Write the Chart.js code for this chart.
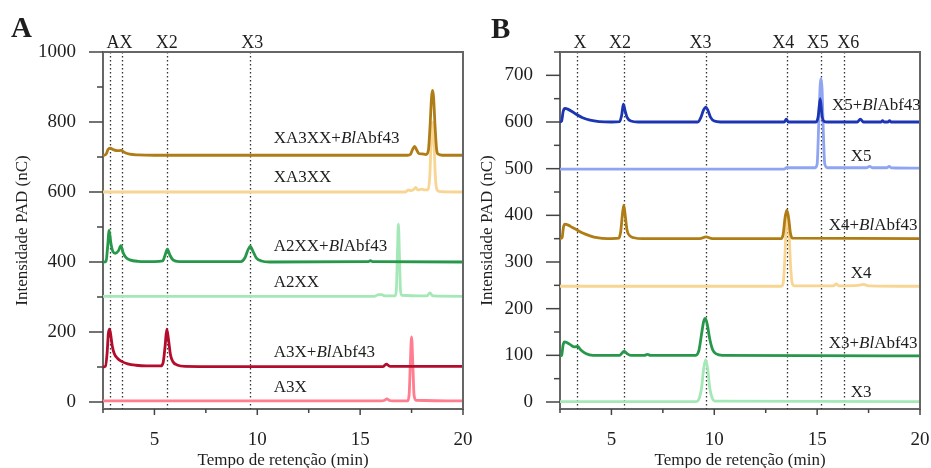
<!DOCTYPE html>
<html><head><meta charset="utf-8">
<script src="https://cdn.jsdelivr.net/npm/chart.js@4.4.0/dist/chart.umd.min.js"></script>
<style>
html,body{margin:0;padding:0;background:#fff;width:931px;height:468px;overflow:hidden;}
#wa{position:absolute;left:0;top:0;width:490px;height:468px;}
#wb{position:absolute;left:470px;top:0;width:461px;height:468px;}
canvas{display:block;}
</style></head><body>
<div id="wa"><canvas id="ca" width="490" height="468"></canvas></div>
<div id="wb"><canvas id="cb" width="461" height="468"></canvas></div>
<script>
// ---------- shared ticks ----------
const xTicks = [2.5, 5, 7.5, 10, 12.5, 15, 17.5, 20];
const xTickLabels = ['', '5', '', '10', '', '15', '', '20'];

// ---------- Panel A ----------
const yTicksA = [0, 100, 200, 300, 400, 500, 600, 700, 800, 900, 1000];
const yTickLabelsA = ['0', '', '200', '', '400', '', '600', '', '800', '', '1000'];
const refTimesA = [2.84, 3.4, 5.63, 9.64];
const refLabelsA = ['AX', 'X2', 'X3'];
const refLabelTimesA = [3.3, 5.6, 9.76];

const XA3XX_Bl = [[2.5,704],[2.65,708],[2.75,722],[2.85,725],[3.0,721],[3.2,718],[3.38,719],[3.55,713],[3.8,708],[4.2,706],[5,705],[17.3,705],[17.45,708],[17.55,722],[17.65,730],[17.75,720],[17.85,710],[18.0,709],[18.2,707],[18.32,720],[18.4,790],[18.47,870],[18.52,890],[18.57,870],[18.64,790],[18.72,720],[18.8,708],[19,705],[20,705]];
const XA3XX = [[2.5,600],[17.2,600],[17.35,606],[17.45,604],[17.6,607],[17.7,613],[17.8,606],[18.0,608],[18.15,606],[18.3,606],[18.38,640],[18.45,740],[18.52,800],[18.59,740],[18.66,640],[18.74,606],[18.9,601],[20,600]];
const A2XX_Bl = [[2.5,400],[2.65,402],[2.72,440],[2.8,490],[2.88,455],[2.98,430],[3.1,425],[3.25,432],[3.37,447],[3.47,428],[3.6,414],[3.8,406],[4.2,402],[5.0,401],[5.4,403],[5.52,420],[5.63,437],[5.75,420],[5.9,406],[6.2,401],[9.2,401],[9.4,412],[9.55,435],[9.66,445],[9.78,432],[9.95,412],[10.2,403],[10.6,400],[15.4,401],[15.5,404],[15.6,401],[20,400]];
const A2XX = [[2.5,302],[15.7,302],[15.9,307],[16.05,307],[16.2,303],[16.7,303],[16.76,320],[16.81,420],[16.86,508],[16.91,420],[16.96,320],[17.02,305],[18.25,303],[18.39,312],[18.53,303],[20,302]];
const A3X_Bl = [[2.5,100],[2.62,102],[2.7,140],[2.76,195],[2.82,208],[2.88,190],[2.95,160],[3.05,138],[3.2,125],[3.4,116],[3.7,109],[4.1,105],[4.6,103],[5.3,103],[5.42,112],[5.52,160],[5.6,208],[5.68,180],[5.78,135],[5.9,115],[6.1,106],[6.5,102],[10,101],[16.1,101],[16.27,108],[16.45,102],[20,102]];
const A3X = [[2.5,3],[16.0,3],[16.2,5],[16.3,9],[16.4,5],[16.6,3],[17.3,3],[17.38,20],[17.44,110],[17.5,186],[17.56,110],[17.62,20],[17.72,5],[20,3]];

const seriesNamesA = ['XA3XX+BlAbf43', 'XA3XX', 'A2XX+BlAbf43', 'A2XX', 'A3X+BlAbf43', 'A3X'];
const seriesDataA = [XA3XX_Bl, XA3XX, A2XX_Bl, A2XX, A3X_Bl, A3X];
const seriesColorsA = ['#b07c18', '#f8d592', '#27984a', '#a5e8b7', '#b30c2c', '#ff7d8e'];
const labelAnchorA = [[10.8,752],[10.8,642],[10.8,445],[10.8,342],[10.8,142],[10.8,40]];

// ---------- Panel B ----------
const yTicksB = [0,50,100,150,200,250,300,350,400,450,500,550,600,650,700,750];
const yTickLabelsB = ['0','','100','','200','','300','','400','','500','','600','','700',''];
const refTimesB = [3.34, 5.6, 9.6, 13.54, 15.18, 16.3];
const refLabelsB = ['X', 'X2', 'X3', 'X4', 'X5', 'X6'];
const refLabelTimesB = [3.47, 5.42, 9.33, 13.35, 15.03, 16.51];

const X5_Bl = [[2.5,600],[2.58,602],[2.65,622],[2.74,629],[2.9,627],[3.1,622],[3.31,616],[3.6,609],[3.96,604],[4.4,601],[5.0,600],[5.4,601],[5.5,615],[5.58,638],[5.66,625],[5.76,610],[5.95,602],[6.3,600],[9.2,600],[9.35,610],[9.48,626],[9.58,632],[9.68,626],[9.82,610],[10.0,602],[10.3,600],[13.4,600],[13.5,606],[13.6,600],[14.95,600],[15.05,612],[15.15,650],[15.24,612],[15.32,602],[15.5,600],[16.95,600],[17.1,606],[17.25,600],[18.1,600],[18.18,603],[18.25,600],[18.45,600],[18.52,603],[18.6,600],[20,600]];
const X5 = [[2.5,499],[13.4,499],[13.5,502],[14.9,502],[15.0,510],[15.08,600],[15.15,680],[15.19,693],[15.24,670],[15.3,580],[15.37,510],[15.5,502],[17.4,502],[17.55,505],[17.7,502],[18.4,502],[18.5,505],[18.6,502],[20,501]];
const X4_Bl = [[2.5,350],[2.6,352],[2.67,375],[2.74,381],[2.9,379],[3.1,374],[3.31,369],[3.6,362],[3.96,356],[4.3,352],[4.8,350],[5.35,351],[5.45,365],[5.53,400],[5.6,422],[5.67,400],[5.76,368],[5.9,356],[6.1,352],[6.5,350],[9.3,350],[9.6,354],[9.9,350],[13.25,350],[13.35,360],[13.44,395],[13.53,411],[13.62,392],[13.7,362],[13.8,351],[20,350]];
const X4 = [[2.5,248],[13.25,248],[13.35,255],[13.42,300],[13.5,380],[13.56,400],[13.62,380],[13.7,300],[13.78,256],[13.9,249],[15.8,249],[15.93,253],[16.06,249],[17.0,250],[17.25,252],[17.5,249],[20,248]];
const X3_Bl = [[2.5,99],[2.58,100],[2.65,122],[2.72,129],[2.85,127],[3.0,123],[3.2,118],[3.36,119],[3.5,112],[3.75,104],[4.1,100],[5.4,100],[5.52,105],[5.62,109],[5.75,104],[5.95,100],[6.6,100],[6.75,102],[6.9,100],[9.1,100],[9.25,110],[9.38,145],[9.48,172],[9.56,179],[9.65,168],[9.78,135],[9.92,112],[10.1,103],[10.4,100],[20,99]];
const X3 = [[2.5,1],[9.1,1],[9.25,6],[9.38,30],[9.48,70],[9.58,91],[9.68,70],[9.78,30],[9.9,8],[10.05,2],[20,1]];

const seriesNamesB = ['X5+BlAbf43', 'X5', 'X4+BlAbf43', 'X4', 'X3+BlAbf43', 'X3'];
const seriesDataB = [X5_Bl, X5, X4_Bl, X4, X3_Bl, X3];
const seriesColorsB = ['#1c35b2', '#8fa5f2', '#b07c14', '#f8d592', '#27984a', '#a5e8b7'];
const labelAnchorB = [[15.72,636],[16.63,525],[15.56,379],[16.63,275],[15.56,125],[16.63,21]];

// ---------- rendering ----------
const FONT = "'Liberation Serif', 'Times New Roman', serif";
const INK = '#1e1e1e';
const FRAME = '#666';

function buildDatasets(names, data, colors) {
  // enzyme-treated (dark) series first so they are drawn on top
  const order = [0, 2, 4, 1, 3, 5];
  return order.map(i => ({
    label: names[i],
    data: data[i].map(([x, y]) => ({x, y})),
    borderColor: colors[i],
    borderWidth: 2.8,
    pointRadius: 0,
    fill: false,
    cubicInterpolationMode: 'monotone'
  }));
}

function drawRich(ctx, text, x, y) {
  text.split(/(Bl)/).forEach(p => {
    if (!p) return;
    ctx.font = (p === 'Bl' ? 'italic ' : '') + '17px ' + FONT;
    ctx.fillText(p, x, y);
    x += ctx.measureText(p).width;
  });
}

function makePlugin(cfg) {
  return {
    id: 'decor',
    beforeDatasetsDraw(chart) {
      const {ctx, chartArea: a, scales: {x}} = chart;
      ctx.save();
      ctx.strokeStyle = '#333';
      ctx.lineWidth = 1.3;
      ctx.setLineDash([1.4, 2.6]);
      cfg.refTimes.forEach(t => {
        const px = Math.round(x.getPixelForValue(t)) + 0.5;
        ctx.beginPath(); ctx.moveTo(px, a.top); ctx.lineTo(px, a.bottom); ctx.stroke();
      });
      ctx.restore();
    },
    afterDraw(chart) {
      const {ctx, chartArea: a, scales: {x, y}} = chart;
      ctx.save();
      // frame top/right
      ctx.strokeStyle = FRAME; ctx.lineWidth = 2;
      ctx.beginPath(); ctx.moveTo(a.left, a.top); ctx.lineTo(a.right, a.top); ctx.lineTo(a.right, a.bottom); ctx.stroke();
      // tick marks
      ctx.strokeStyle = '#444'; ctx.lineWidth = 1.5;
      y.ticks.forEach((t, i) => {
        const py = y.getPixelForValue(t.value);
        const len = cfg.yLabels[i] ? 14 : 6;
        ctx.beginPath(); ctx.moveTo(a.left - len, py); ctx.lineTo(a.left, py); ctx.stroke();
      });
      x.ticks.forEach((t, i) => {
        const px = x.getPixelForValue(t.value);
        const len = xTickLabels[i] ? 6 : 4;
        ctx.beginPath(); ctx.moveTo(px, a.bottom); ctx.lineTo(px, a.bottom + len); ctx.stroke();
      });
      // reference labels above the frame
      ctx.fillStyle = INK;
      ctx.font = '18px ' + FONT;
      ctx.textAlign = 'center'; ctx.textBaseline = 'alphabetic';
      cfg.refLabels.forEach((s, i) => ctx.fillText(s, x.getPixelForValue(cfg.refLabelTimes[i]), 48));
      // series labels
      ctx.textAlign = 'left'; ctx.textBaseline = 'middle';
      cfg.names.forEach((n, i) => {
        const [t, v] = cfg.anchors[i];
        drawRich(ctx, n, x.getPixelForValue(t), y.getPixelForValue(v));
      });
      // panel letter
      ctx.font = 'bold 29px ' + FONT;
      ctx.textBaseline = 'alphabetic';
      ctx.fillText(cfg.letter, cfg.letterX, cfg.letterY);
      ctx.restore();
    }
  };
}

function makeChart(id, o) {
  return new Chart(document.getElementById(id), {
    type: 'line',
    data: {datasets: buildDatasets(o.names, o.data, o.colors)},
    options: {
      responsive: false, animation: false, devicePixelRatio: 1,
      layout: {padding: {left: 0, right: o.padRight, top: 52, bottom: 0}},
      plugins: {legend: {display: false}, tooltip: {enabled: false}},
      scales: {
        x: {
          type: 'linear', min: 2.5, max: 20,
          afterBuildTicks: s => { s.ticks = xTicks.map(v => ({value: v})); },
          afterFit: s => { s.height = 59; s.paddingLeft = 0; s.paddingRight = 0; },
          ticks: {autoSkip: false, maxRotation: 0, padding: 20, color: INK,
                  font: {family: FONT, size: 19}, callback: (v, i) => xTickLabels[i]},
          grid: {display: false, drawTicks: false},
          border: {display: true, color: FRAME, width: 2},
          title: {display: true, text: 'Tempo de retenção (min)', color: INK,
                  font: {family: FONT, size: 17, lineHeight: 0.85}, padding: {top: 0, bottom: 0}}
        },
        y: {
          type: 'linear', min: o.yMin, max: o.yMax,
          afterBuildTicks: s => { s.ticks = o.yTicks.map(v => ({value: v})); },
          afterFit: s => { s.width = o.yWidth; s.paddingTop = 0; s.paddingBottom = 0; },
          ticks: {autoSkip: false, padding: 27, color: INK,
                  font: {family: FONT, size: 19}, callback: (v, i) => o.yLabels[i]},
          grid: {display: false, drawTicks: false},
          border: {display: true, color: FRAME, width: 2},
          title: {display: true, text: 'Intensidade PAD (nC)', color: INK,
                  font: {family: FONT, size: 17}, padding: {top: o.yTitlePad, bottom: 0}}
        }
      }
    },
    plugins: [makePlugin({refTimes: o.refTimes, refLabels: o.refLabels, refLabelTimes: o.refLabelTimes,
                          yLabels: o.yLabels, names: o.names, anchors: o.anchors, letter: o.letter,
                          letterX: o.letterX, letterY: o.letterY})]
  });
}

makeChart('ca', {
  names: seriesNamesA, data: seriesDataA, colors: seriesColorsA, anchors: labelAnchorA,
  yTicks: yTicksA, yLabels: yTickLabelsA, yMin: -20, yMax: 1000, yWidth: 103, yTitlePad: 12,
  refTimes: refTimesA, refLabels: refLabelsA, refLabelTimes: refLabelTimesA,
  padRight: 27, letter: 'A', letterX: 11, letterY: 37
});
makeChart('cb', {
  names: seriesNamesB, data: seriesDataB, colors: seriesColorsB, anchors: labelAnchorB,
  yTicks: yTicksB, yLabels: yTickLabelsB, yMin: -15, yMax: 750, yWidth: 90, yTitlePad: 7,
  refTimes: refTimesB, refLabels: refLabelsB, refLabelTimes: refLabelTimesB,
  padRight: 11, letter: 'B', letterX: 21, letterY: 38
});
</script>
</body></html>
